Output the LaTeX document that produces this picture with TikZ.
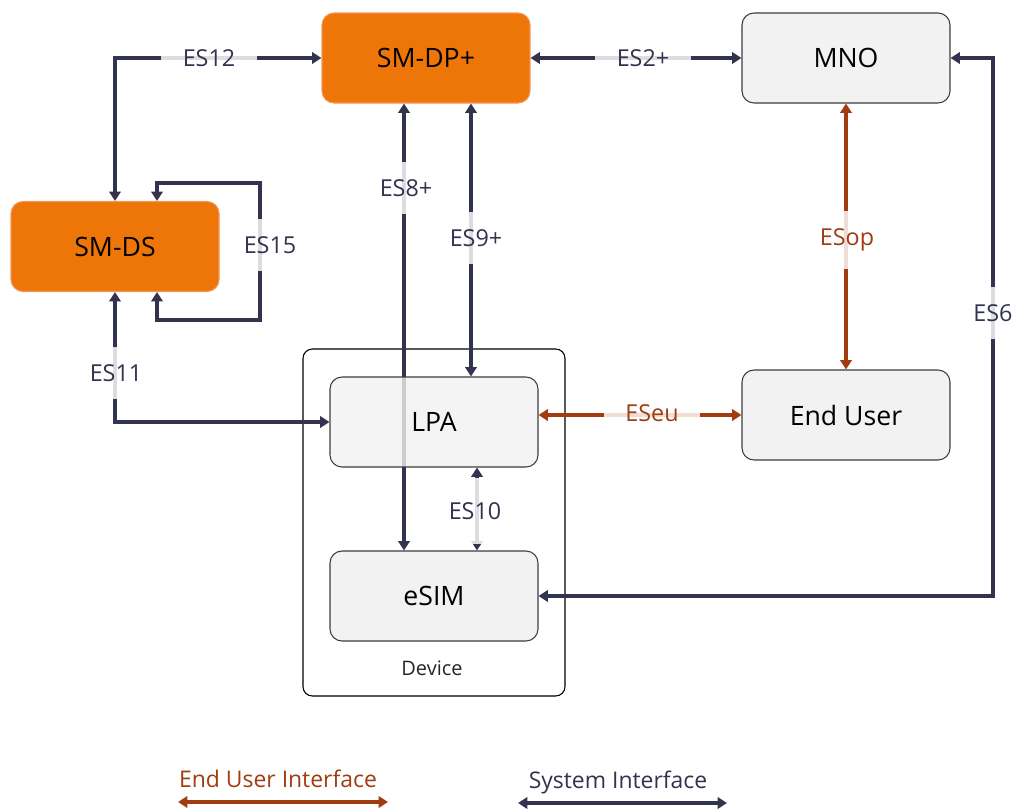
\documentclass[tikz,border=0pt]{standalone}
\usepackage{fontspec}
\setmainfont{Open Sans}
\usetikzlibrary{arrows.meta}
\definecolor{orangeN}{RGB}{238,118,8}
\definecolor{orangeB}{RGB}{244,150,90}
\definecolor{navy}{RGB}{50,51,78}
\definecolor{brownU}{RGB}{160,60,16}
\definecolor{nodefill}{RGB}{242,242,242}
\definecolor{nodeborder}{RGB}{60,60,60}
\begin{document}
\begin{tikzpicture}[x=0.75pt,y=-0.75pt,
  box/.style={draw=nodeborder, line width=0.8pt, rounded corners=9pt, fill=nodefill,
    minimum width=156pt, minimum height=67.5pt, inner sep=0pt,
    font=\fontsize{20}{24}\selectfont},
  obox/.style={box, fill=orangeN, draw=orangeB},
  devbox/.style={draw=black, line width=0.8pt, rounded corners=7pt, fill=white,
    minimum width=196.5pt, minimum height=260.25pt},
  sys/.style={draw=navy, line width=2.4pt,
    {Triangle[length=7pt,width=8.5pt]}-{Triangle[length=7pt,width=8.5pt]}},
  usr/.style={draw=brownU, line width=2.4pt,
    {Triangle[length=7pt,width=8.5pt]}-{Triangle[length=7pt,width=8.5pt]}},
  lbl/.style={fill=white, fill opacity=0.83, text opacity=1, inner xsep=16pt, inner ysep=13pt,
    font=\fontsize{17.5}{20}\selectfont},
  slbl/.style={lbl, text=navy},
  ulbl/.style={lbl, text=brownU},
  legtext/.style={font=\fontsize{17.2}{20}\selectfont, inner sep=0pt}
]
\useasboundingbox (0,0) rectangle (1014,810);

% device container
\node[devbox] (dev) at (434,522.5) {};
\node[font=\fontsize{15}{18}\selectfont, text=black!85] (devlbl) at (432,668) {Device};

% nodes
\node[obox] (dp) at (426,58) {SM-DP+};
\node[box] (mno) at (846,58) {MNO};
\node[obox] (ds) at (115,246.5) {SM-DS};
\node[box] (esim) at (434,596) {eSIM};
\node[box] (eu) at (846,415) {End User};

\coordinate (x8) at (404,0);
\coordinate (x9) at (471,0);
\coordinate (x10) at (477,0);
\coordinate (c15) at (260,320);
\coordinate (c6) at (993,400);

% ES8+ passes behind LPA
\draw[sys] (dp.south -| x8) -- (esim.north -| x8);
\node[box, fill opacity=0.8, text opacity=1] (lpa) at (434,422) {LPA};

% system interfaces
\draw[sys] (ds.north) |- (dp.west);
\draw[sys] (dp.east) -- (mno.west);
\draw[sys] ([xshift=31.5pt]ds.north) -- ++(0,-18) -| (c15) -| ([xshift=31.5pt]ds.south);
\draw[sys] (ds.south) |- (lpa.west);
\draw[sys] (dp.south -| x9) -- (lpa.north -| x9);
\draw[sys] (lpa.south -| x10) -- (esim.north -| x10);
\draw[sys] (mno.east) -| (c6) |- (esim.east);

% end user interfaces
\draw[usr] (mno.south) -- (eu.north);
\draw[usr] (lpa.east |- eu.west) -- (eu.west);

% labels
\node[slbl] (l12) at (209,58) {ES12};
\node[slbl] (l2) at (643,58) {ES2+};
\node[slbl] (l15) at (270,245) {ES15};
\node[slbl] (l11) at (116,373) {ES11};
\node[slbl] (l8) at (406,188) {ES8+};
\node[slbl] (l9) at (476,238) {ES9+};
\node[slbl, inner ysep=18pt] (l10) at (475,511) {ES10};
\node[slbl] (l6) at (993,313) {ES6};
\node[ulbl] (lop) at (847,240) {ESop};
\node[ulbl] (leu) at (652,413) {ESeu};

% legend
\node[legtext, text=brownU] (legu) at (278,779) {End User Interface};
\node[legtext, text=navy] (legs) at (618,782) {System Interface};
\coordinate (lua) at (178,802);
\coordinate (lub) at (388,802);
\coordinate (lsa) at (518,803);
\coordinate (lsb) at (727,803);
\draw[usr] (lua) -- (lub);
\draw[sys] (lsa) -- (lsb);
\end{tikzpicture}
\end{document}
